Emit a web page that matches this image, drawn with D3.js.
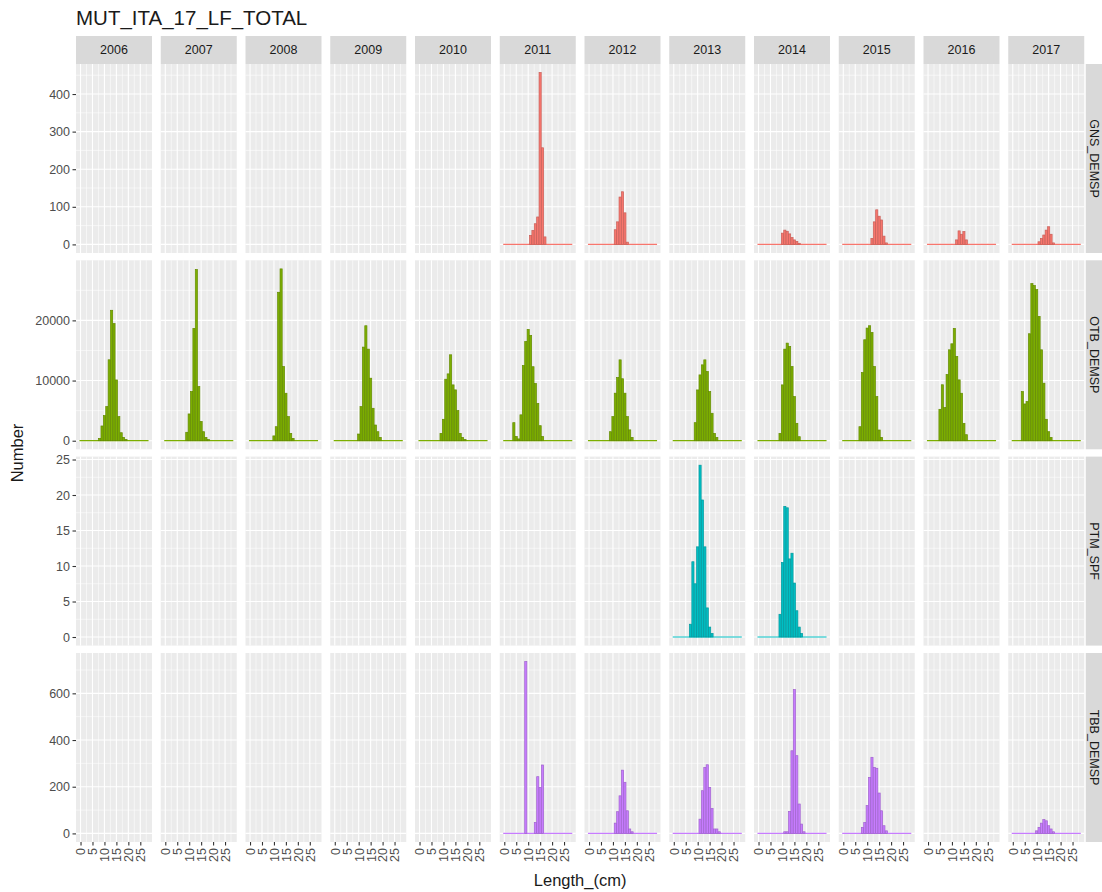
<!DOCTYPE html>
<html><head><meta charset="utf-8">
<script src="https://cdn.jsdelivr.net/npm/d3@7"></script>
<style>body{margin:0;background:#fff}svg{display:block}</style>
</head><body><svg id="c" width="1102" height="892"></svg>
<script>
const title = "MUT_ITA_17_LF_TOTAL";
const years = ["2006","2007","2008","2009","2010","2011","2012","2013","2014","2015","2016","2017"];
const gears = ["GNS_DEMSP","OTB_DEMSP","PTM_SPF","TBB_DEMSP"];
const gearColors = ["#F8766D","#7CAE00","#00BFC4","#C77CFF"];
const lengthClasses = [0,1,2,3,4,5,6,7,8,9,10,11,12,13,14,15,16,17,18,19,20,21,22,23,24,25,26,27,28];
const xTicks = [0,5,10,15,20,25];
const yTicksGNS = [0,100,200,300,400];
const yTicksOTB = [0,10000,20000];
const yTicksPTM = [0,5,10,15,20,25];
const yTicksTBB = [0,200,400,600];

// GNS_DEMSP
const GNS_2011 = [0,0,0,0,0,0,0,0,0,0,0,24,37,55,73,457,257,20,0,0,0,0,0,0,0,0,0,0,0];
const GNS_2012 = [0,0,0,0,0,0,0,0,0,0,0,39,60,126,140,84,6,0,0,0,0,0,0,0,0,0,0,0,0];
const GNS_2014 = [0,0,0,0,0,0,0,0,0,0,30,38,35,28,18,12,8,3,0,0,0,0,0,0,0,0,0,0,0];
const GNS_2015 = [0,0,0,0,0,0,0,0,0,0,0,0,16,60,92,75,65,22,4,0,0,0,0,0,0,0,0,0,0];
const GNS_2016 = [0,0,0,0,0,0,0,0,0,0,0,0,12,36,27,34,12,0,0,0,0,0,0,0,0,0,0,0,0];
const GNS_2017 = [0,0,0,0,0,0,0,0,0,0,0,7,16,25,38,47,27,4,0,0,0,0,0,0,0,0,0,0,0];
// OTB_DEMSP
const OTB_2006 = [0,0,0,0,0,0,0,0,390,2450,4170,5670,13450,21680,19460,10100,4000,1330,556,200,0,0,0,0,0,0,0,0,0];
const OTB_2007 = [0,0,0,0,0,0,0,0,0,1400,4450,8170,18670,28450,9000,3200,1500,555,200,0,0,0,0,0,0,0,0,0,0];
const OTB_2008 = [0,0,0,0,0,0,0,0,0,0,800,2330,24670,28560,12330,7890,4000,1220,390,0,0,0,0,0,0,0,0,0,0];
const OTB_2009 = [0,0,0,0,0,0,0,0,0,0,1110,5670,15560,19110,15220,10390,5390,2610,1500,556,0,0,0,0,0,0,0,0,0];
const OTB_2010 = [0,0,0,0,0,0,0,0,0,1220,3560,10220,11110,14280,9280,8450,5000,1220,556,200,0,0,0,0,0,0,0,0,0];
const OTB_2011 = [0,0,0,0,3000,700,300,4300,12500,16500,18500,17500,12300,9500,6200,2500,700,0,0,0,0,0,0,0,0,0,0,0,0];
const OTB_2012 = [0,0,0,0,0,0,0,0,0,1500,4000,7900,10500,13440,10300,7900,4000,1800,556,0,0,0,0,0,0,0,0,0,0];
const OTB_2013 = [0,0,0,0,0,0,0,0,0,3000,8440,10940,12610,13440,11500,8170,4560,1220,556,0,0,0,0,0,0,0,0,0,0];
const OTB_2014 = [0,0,0,0,0,0,0,0,0,1220,9280,15220,16220,15670,12330,7330,2890,670,0,0,0,0,0,0,0,0,0,0,0];
const OTB_2015 = [0,0,0,0,0,0,0,2330,11330,16780,18720,19110,18000,12330,7330,1780,556,0,0,0,0,0,0,0,0,0,0,0,0];
const OTB_2016 = [0,0,0,0,0,5220,9300,5500,11000,15110,16110,18670,14000,10110,7890,2890,1000,0,0,0,0,0,0,0,0,0,0,0,0];
const OTB_2017 = [0,0,0,0,8170,6110,6500,17780,26110,25780,25110,20670,15110,9560,3560,1500,556,0,0,0,0,0,0,0,0,0,0,0,0];
// PTM_SPF
const PTM_2013 = [0,0,0,0,0,0,0,1.8,10.6,7.5,12.7,24.2,19.3,12.7,4.1,1.4,0.5,0,0,0,0,0,0,0,0,0,0,0,0];
const PTM_2014 = [0,0,0,0,0,0,0,0,0,3.2,10.5,18.4,18.2,11,11.8,7.6,3.7,1.4,0.5,0,0,0,0,0,0,0,0,0,0];
// TBB_DEMSP
const TBB_2011 = [0,0,0,0,0,0,0,0,0,736,0,0,0,47,243,197,293,0,0,0,0,0,0,0,0,0,0,0,0];
const TBB_2012 = [0,0,0,0,0,0,0,0,0,0,0,44,93,161,271,219,97,19,7,0,0,0,0,0,0,0,0,0,0];
const TBB_2013 = [0,0,0,0,0,0,0,0,0,0,0,61,183,283,294,197,107,19,19,7,0,0,0,0,0,0,0,0,0];
const TBB_2014 = [0,0,0,0,0,0,0,0,0,0,0,7,7,94,354,616,333,126,40,7,0,0,0,0,0,0,0,0,0];
const TBB_2015 = [0,0,0,0,0,0,0,0,26,47,119,240,326,283,279,173,97,33,11,0,0,0,0,0,0,0,0,0,0];
const TBB_2017 = [0,0,0,0,0,0,0,0,0,0,11,26,44,59,54,33,19,7,0,0,0,0,0,0,0,0,0,0,0];

const seriesTable = {
  GNS_DEMSP: {"2011":GNS_2011,"2012":GNS_2012,"2014":GNS_2014,"2015":GNS_2015,"2016":GNS_2016,"2017":GNS_2017},
  OTB_DEMSP: {"2006":OTB_2006,"2007":OTB_2007,"2008":OTB_2008,"2009":OTB_2009,"2010":OTB_2010,"2011":OTB_2011,
              "2012":OTB_2012,"2013":OTB_2013,"2014":OTB_2014,"2015":OTB_2015,"2016":OTB_2016,"2017":OTB_2017},
  PTM_SPF: {"2013":PTM_2013,"2014":PTM_2014},
  TBB_DEMSP: {"2011":TBB_2011,"2012":TBB_2012,"2013":TBB_2013,"2014":TBB_2014,"2015":TBB_2015,"2017":TBB_2017}
};
const rowTicks = [yTicksGNS, yTicksOTB, yTicksPTM, yTicksTBB];

// ---- layout ----
const svg = d3.select("#c");
const FONT = "'Liberation Sans', Arial, Helvetica, sans-serif";
const panelW = 76, panelH = 189, colX0 = 76, colStep = 84.75;
const rowTops = [64, 260.3, 456.6, 653];
const stripTop = 36, stripH = 28;
const barW = 0.9;

const xLo = d3.min(lengthClasses) - barW/2, xHi = d3.max(lengthClasses) + barW/2;
const xPad = (xHi - xLo) * 0.05;
const x = d3.scaleLinear().domain([xLo - xPad, xHi + xPad]).range([0, panelW]);

svg.append("rect").attr("width",1102).attr("height",892).attr("fill","#fff");

// title
svg.append("text").attr("x", 76).attr("y", 25).text(title)
  .attr("font-family", FONT).attr("font-size", 20.5).attr("fill", "#1a1a1a");

gears.forEach((g, r) => {
  const rowData = Object.values(seriesTable[g]);
  const maxV = d3.max(rowData, a => d3.max(a));
  const y = d3.scaleLinear().domain([-0.05*maxV, 1.05*maxV]).range([panelH, 0]);
  const ticks = rowTicks[r];
  const step = ticks[1] - ticks[0];
  const minor = [ticks[0]-step/2].concat(ticks.map(t => t + step/2))
    .filter(v => v > y.domain()[0] && v < y.domain()[1]);
  const xMinor = [xTicks[0]-2.5].concat(xTicks.map(t => t + 2.5))
    .filter(v => v > x.domain()[0] && v < x.domain()[1]);
  const col = gearColors[r];

  years.forEach((yr, c) => {
    const gx = colX0 + c*colStep, gy = rowTops[r];
    const p = svg.append("g").attr("transform", `translate(${gx},${gy})`);
    p.append("rect").attr("width", panelW).attr("height", panelH).attr("fill", "#EBEBEB");
    p.selectAll(".ymn").data(minor).enter().append("line")
      .attr("x1",0).attr("x2",panelW).attr("y1",d=>y(d)).attr("y2",d=>y(d))
      .attr("stroke","#fff").attr("stroke-width",0.55);
    p.selectAll(".xmn").data(xMinor).enter().append("line")
      .attr("y1",0).attr("y2",panelH).attr("x1",d=>x(d)).attr("x2",d=>x(d))
      .attr("stroke","#fff").attr("stroke-width",0.55);
    p.selectAll(".ymj").data(ticks).enter().append("line")
      .attr("x1",0).attr("x2",panelW).attr("y1",d=>y(d)).attr("y2",d=>y(d))
      .attr("stroke","#fff").attr("stroke-width",1.1);
    p.selectAll(".xmj").data(xTicks).enter().append("line")
      .attr("y1",0).attr("y2",panelH).attr("x1",d=>x(d)).attr("x2",d=>x(d))
      .attr("stroke","#fff").attr("stroke-width",1.1);

    const vals = seriesTable[g][yr];
    if (vals) {
      const pts = lengthClasses.map((L,i) => ({L, v: vals[i]}));
      p.append("line").attr("x1", x(xLo)).attr("x2", x(xHi))
        .attr("y1", y(0)).attr("y2", y(0)).attr("stroke", col).attr("stroke-width", 1.2);
      p.selectAll(".bar").data(pts.filter(d => d.v > 0)).enter().append("rect")
        .attr("x", d => x(d.L - barW/2)).attr("width", d => x(d.L + barW/2) - x(d.L - barW/2))
        .attr("y", d => y(d.v)).attr("height", d => y(0) - y(d.v))
        .attr("fill", col).attr("stroke", d3.color(col).darker(0.6)).attr("stroke-width", 0.7);
    }

    if (r === 0) {
      svg.append("rect").attr("x", gx).attr("y", stripTop).attr("width", panelW).attr("height", stripH)
        .attr("fill", "#D9D9D9");
      svg.append("text").attr("x", gx + panelW/2).attr("y", stripTop + stripH/2 + 4.3)
        .attr("text-anchor","middle").text(yr)
        .attr("font-family", FONT).attr("font-size", 12.5).attr("fill", "#1A1A1A");
    }
    if (c === 0) {
      const ax = svg.append("g").attr("transform", `translate(${gx},${gy})`)
        .call(d3.axisLeft(y).tickValues(ticks).tickSize(3.5).tickPadding(2.5).tickFormat(d3.format("d")));
      ax.select(".domain").remove();
      ax.selectAll("line").attr("stroke","#333").attr("stroke-width",1.1);
      ax.selectAll("text").attr("font-family", FONT).attr("font-size", 12.5).attr("fill","#4D4D4D");
    }
    if (r === gears.length - 1) {
      const ax = svg.append("g").attr("transform", `translate(${gx},${gy + panelH})`)
        .call(d3.axisBottom(x).tickValues(xTicks).tickSize(3.5).tickPadding(2.5));
      ax.select(".domain").remove();
      ax.selectAll("line").attr("stroke","#333").attr("stroke-width",1.1);
      ax.selectAll("text").attr("font-family", FONT).attr("font-size", 12.5).attr("fill","#4D4D4D")
        .attr("transform","rotate(-90)").attr("text-anchor","end")
        .attr("x", -6).attr("y", 0).attr("dy","0.35em");
    }
  });
  const sx = colX0 + 11*colStep + panelW + 1.5;
  svg.append("rect").attr("x", sx).attr("y", rowTops[r]).attr("width", 1102 - sx).attr("height", panelH)
    .attr("fill", "#D9D9D9");
  svg.append("text").attr("transform", `translate(${sx + 8.5},${rowTops[r] + panelH/2}) rotate(90)`)
    .attr("text-anchor","middle").attr("dy","0.35em").text(g)
    .attr("font-family", FONT).attr("font-size", 12.5).attr("fill", "#1A1A1A");
});

svg.append("text").attr("x", colX0 + (11*colStep + panelW)/2).attr("y", 886)
  .attr("text-anchor","middle").text("Length_(cm)")
  .attr("font-family", FONT).attr("font-size", 16.5).attr("fill", "#1a1a1a");
svg.append("text").attr("transform", `translate(23,${(rowTops[0] + rowTops[3] + panelH)/2}) rotate(-90)`)
  .attr("text-anchor","middle").text("Number")
  .attr("font-family", FONT).attr("font-size", 16.5).attr("fill", "#1a1a1a");
</script>
</body></html>
